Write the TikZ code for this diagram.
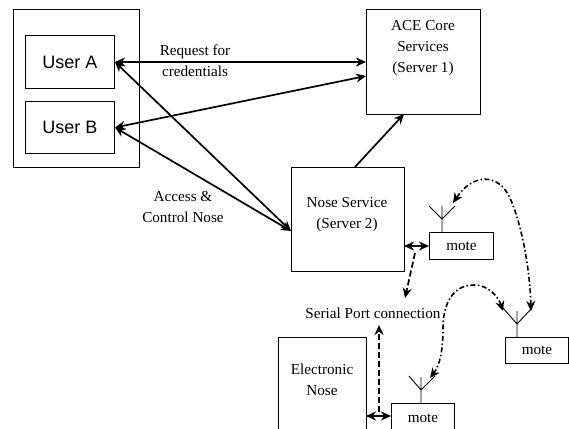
\documentclass[tikz,border=0pt]{standalone}
\usepackage{fontspec}
\setmainfont{Liberation Serif}
\newfontfamily\sansf{Liberation Sans}
\usetikzlibrary{arrows.meta}
\tikzset{
 box/.style={draw,line width=1pt,inner sep=0pt,anchor=north west,align=center,font=\fontsize{15.2}{20}\selectfont},
 userbox/.style={box,font=\sansf\fontsize{18}{20}\selectfont},
 lbl/.style={inner sep=0pt,align=center,font=\fontsize{15.2}{21}\selectfont},
 arr/.style={line width=1.7pt,-{Stealth[length=10pt,width=9pt]}},
 dbl/.style={line width=1.7pt,{Stealth[length=10pt,width=9pt]}-{Stealth[length=10pt,width=9pt]}},
 serialarr/.style={line width=1.7pt,dash pattern=on 6pt off 3pt,-{Stealth[length=10pt,width=9pt]}},
 radio/.style={line width=1.6pt,dash pattern=on 5pt off 2.5pt on 1.5pt off 2.5pt,{Stealth[length=10pt,width=9pt]}-{Stealth[length=10pt,width=9pt]}},
 ant/.style={line width=.9pt}
}
\begin{document}
\begin{tikzpicture}[x=1pt,y=-1pt]
\useasboundingbox (0,0) rectangle (569,428);
\node[box,minimum width=126pt,minimum height=158pt] (outer) at (13,9) {};
\node[userbox,minimum width=89pt,minimum height=53pt] (ua) at (25,35) {User A};
\node[userbox,minimum width=89pt,minimum height=52pt] (ub) at (25,101) {User B};
\node[box,minimum width=114pt,minimum height=105pt] (ace) at (366,9) {};
\node[lbl] (acet) at (423,48) {ACE Core\\Services\\(Server 1)};
\node[box,minimum width=113pt,minimum height=104pt] (nose) at (291,167) {};
\node[lbl] (noset) at (347,215) {Nose Service\\(Server 2)};
\node[box,minimum width=64pt,minimum height=27pt] (m1) at (429,232) {mote};
\node[box,minimum width=63pt,minimum height=26pt] (m2) at (505,337) {mote};
\node[box,minimum width=63pt,minimum height=30pt] (m3) at (391,403) {mote};
\node[box,minimum width=88pt,minimum height=96pt] (en) at (278,337) {};
\node[lbl] (ent) at (322,380) {Electronic\\Nose};
\node[lbl] (req) at (195,61) {Request for\\credentials};
\node[lbl] (acc) at (183,207) {Access \&\\Control Nose};
\node[lbl] (ser) at (373,313) {Serial Port connection};
% main arrows
\coordinate (aceA) at (366,62);
\coordinate (aceB) at (366,76);
\coordinate (aceN) at (404,114);
\coordinate (nA) at (291,231);
\coordinate (nB) at (291,231);
\coordinate (nT) at (355,167);
\draw[dbl] (ua.east) -- (aceA);
\draw[dbl] (ub.east) -- (aceB);
\draw[dbl] (ua.east) -- (nA);
\draw[dbl] (ub.east) -- (nB);
\draw[arr] (nT) -- (aceN);
% antennas
\foreach \n/\sx/\sy/\tx/\ty/\lx/\ly/\rx/\ry in {a/442/232/442/206/429/206/455/206,b/517/337/517/311/503/308/532/308,c/421/403/421/377/409/376/435/376}{
 \coordinate (\n s) at (\sx,\sy);
 \coordinate (\n t) at (\tx,\ty);
 \coordinate (\n j) at (\tx,\ty+13);
 \coordinate (\n l) at (\lx,\ly);
 \coordinate (\n r) at (\rx,\ry);
 \draw[ant] (\n s) -- (\n t) (\n l) -- (\n j) -- (\n r);
}
% local links
\coordinate (n1) at (404,246);
\coordinate (m1w) at (429,246);
\coordinate (e1) at (366,416);
\coordinate (m3w) at (391,416);
\draw[dbl] (n1) -- (m1w);
\draw[dbl] (e1) -- (m3w);
\coordinate (s1) at (415,253);
\coordinate (s1e) at (405,298);
\coordinate (s2) at (379,412);
\coordinate (s2e) at (379,325);
\draw[serialarr] (s1) -- (s1e);
\draw[serialarr] (s2) -- (s2e);
% radio links
\coordinate (r1) at (531,311);
\coordinate (r1e) at (453,203);
\coordinate (r2) at (503,311);
\coordinate (r2e) at (430,378);
\draw[radio] (r1) .. controls (530,270) and (522,225) .. (510,198) .. controls (498,172) and (472,174) .. (r1e);
\draw[radio] (r2) .. controls (498,296) and (488,285) .. (474,285) .. controls (452,285) and (443,305) .. (443,328) .. controls (443,350) and (440,365) .. (r2e);
\end{tikzpicture}
\end{document}
